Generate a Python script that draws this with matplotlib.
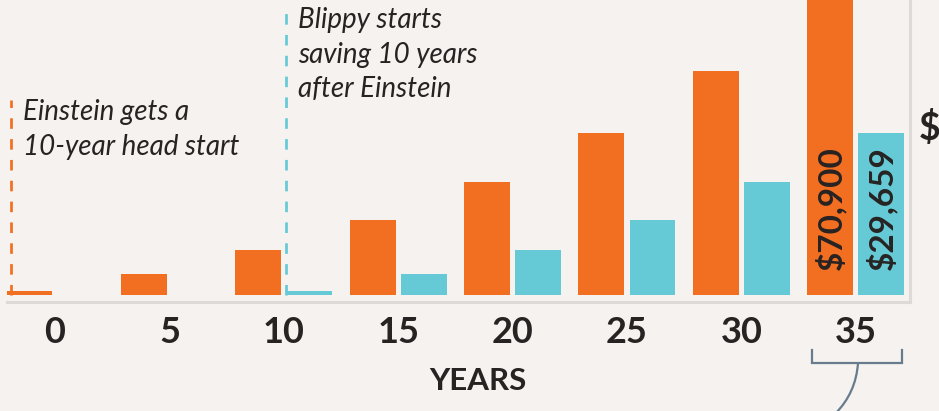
import matplotlib
matplotlib.use('Agg')
import matplotlib.pyplot as plt
from matplotlib.path import Path
from matplotlib.patches import PathPatch
from matplotlib.lines import Line2D
from matplotlib.transforms import blended_transform_factory
import numpy as np

# ---------------- data ----------------
years = [0, 5, 10, 15, 20, 25, 30, 35]
einstein = [730, 3850, 8240, 13730, 20690, 29659, 41010, 70900]
blippy = [0, 0, 730, 3850, 8240, 13730, 20690, 29659]
tick_labels = [str(y) for y in years]
callout_labels = ['$70,900', '$29,659']
x_title = 'YEARS'
note_einstein = ['Einstein gets a', '10-year head start']
note_blippy = ['Blippy starts', 'saving 10 years', 'after Einstein']

# ---------------- style ----------------
ORANGE = '#f26f21'
BLUE = '#65cad6'
BG = '#f5f2ef'
INK = '#272323'
FRAME = '#dddad7'
SLATE = '#687c8e'
plt.rcParams['font.family'] = ['Lato', 'DejaVu Sans']
plt.rcParams['lines.scale_dashes'] = False

W, H = 939, 411
fig = plt.figure(figsize=(W / 100, H / 100), dpi=100, facecolor=BG)


def fx(px):
    return px / W


def fy(py):
    return 1 - py / H


ax_left, ax_right, ax_top, ax_bottom = 6.5, 910, 0, 302
ax = fig.add_axes([fx(ax_left), fy(ax_bottom), (ax_right - ax_left) / W, (ax_bottom - ax_top) / H])
ax.set_facecolor(BG)

idx = np.arange(len(years))
off = 0.223
w = 0.402
ax.bar(idx - off, einstein, width=w, color=ORANGE, linewidth=0)
ax.bar(idx + off, blippy, width=w, color=BLUE, linewidth=0)

per_px = 183.1
ax.set_ylim(-7 * per_px, 295 * per_px)
ax.set_xlim(-0.424, 7.474)

for s in ['left', 'top']:
    ax.spines[s].set_visible(False)
for s in ['bottom', 'right']:
    ax.spines[s].set_color(FRAME)
    ax.spines[s].set_linewidth(2.2)
ax.set_yticks([])
ax.set_xticks(idx)
ax.set_xticklabels(tick_labels, fontsize=26, fontweight='bold', color=INK, va='baseline')
ax.tick_params(axis='x', length=0, pad=29.5)

ax.set_xlabel(x_title, fontsize=22.5, fontweight='bold', color=INK, va='baseline')
ax.xaxis.set_label_coords((478 - ax_left) / (ax_right - ax_left), -(390 - ax_bottom) / (ax_bottom - ax_top))

# dashed start markers (drawn bottom-up so a dash meets the bar)
tr = blended_transform_factory(ax.transData, ax.transAxes)
base_frac = 7 / 302
px_unit = 1 / 114.4
x_or = 0 - off - w / 2 + 4.8 * px_unit
x_bl = 2 + off - w / 2 + 0.0 * px_unit
dash = (0, (7.6, 7.4))
ax.plot([x_or, x_or], [base_frac, (302 - 100) / 302], transform=tr, color=ORANGE,
        lw=1.95, linestyle=dash, clip_on=False, solid_capstyle='butt', dash_capstyle='butt')
ax.plot([x_bl, x_bl], [base_frac, (302 - 7) / 302], transform=tr, color=BLUE,
        lw=1.95, linestyle=dash, clip_on=False, solid_capstyle='butt', dash_capstyle='butt')

# value callouts inside the final bars
ax.annotate(callout_labels[0], xy=(7 - off, 0), xytext=(0, 18), textcoords='offset points',
            rotation=90, ha='center', va='bottom', fontsize=24, fontweight='bold', color=INK)
ax.annotate(callout_labels[1], xy=(7 + off, 0), xytext=(0, 18), textcoords='offset points',
            rotation=90, ha='center', va='bottom', fontsize=24, fontweight='bold', color=INK)

# notes
for i, line in enumerate(note_einstein):
    fig.text(fx(23), fy(120 + 35 * i), line, fontsize=20, style='italic', color=INK, va='baseline', ha='left')
for i, line in enumerate(note_blippy):
    fig.text(fx(298), fy(28 + 34.5 * i), line, fontsize=20, style='italic', color=INK, va='baseline', ha='left')

# partial $ at right edge
fig.text(fx(919), fy(128), '$', fontsize=27, fontweight='bold', color=INK, va='center', ha='left')

# bracket under 35
bx = [fx(812), fx(812), fx(902), fx(902)]
by = [fy(350), fy(363), fy(363), fy(350)]
fig.add_artist(Line2D(bx, by, transform=fig.transFigure, color=SLATE, lw=1.6, solid_joinstyle='miter'))
verts = [(fx(858), fy(363)), (fx(856), fy(393)), (fx(835), fy(414))]
p = Path(verts, [Path.MOVETO, Path.CURVE3, Path.CURVE3])
fig.add_artist(PathPatch(p, transform=fig.transFigure, facecolor='none', edgecolor=SLATE, lw=1.6))

fig.savefig('out.png', dpi=100, facecolor=BG)
